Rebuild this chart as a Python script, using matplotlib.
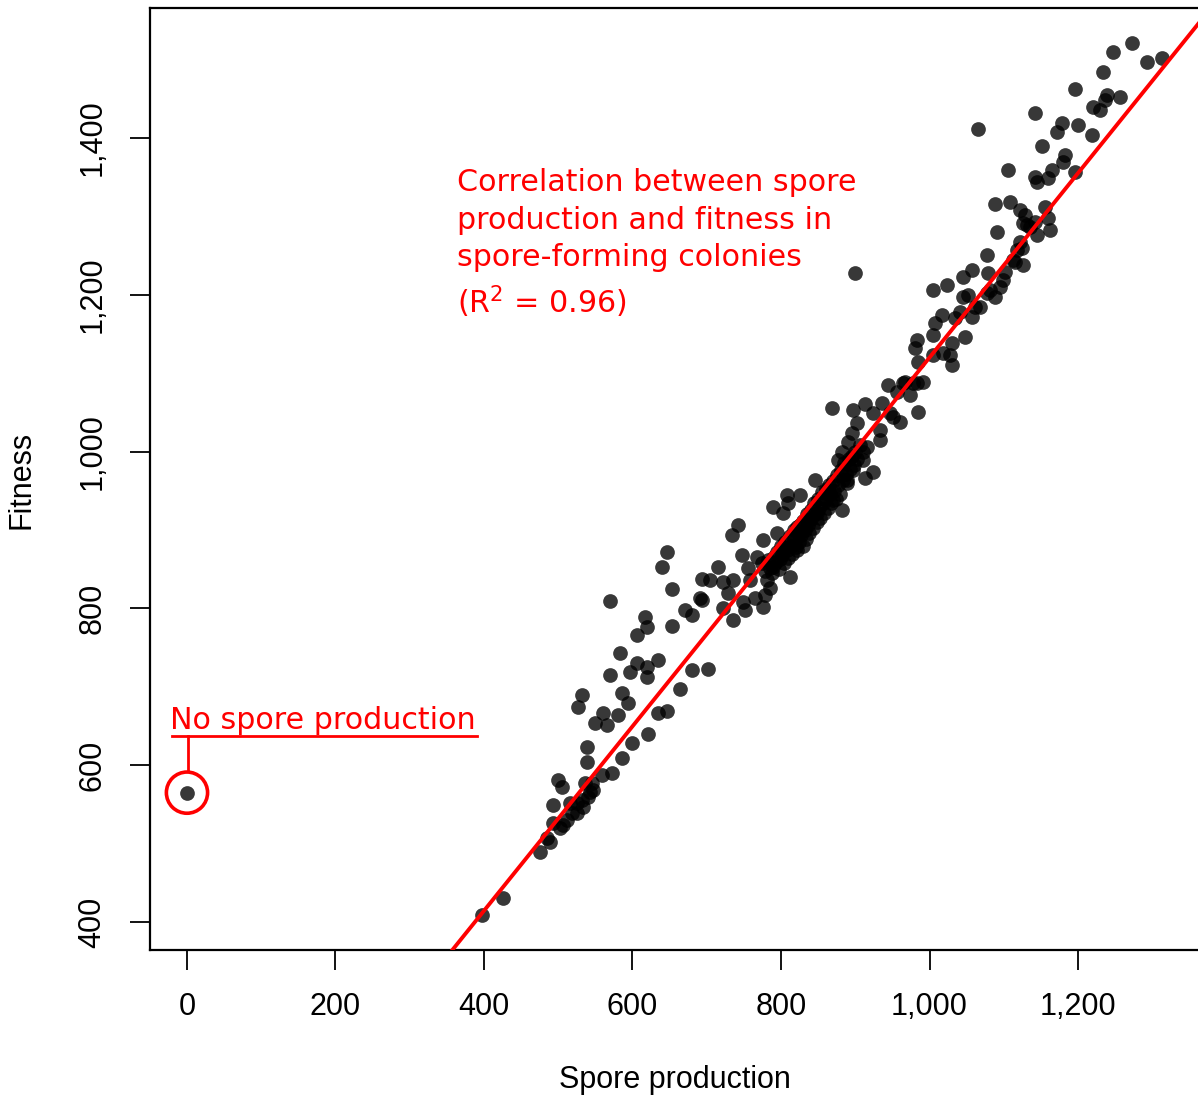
import matplotlib
matplotlib.use("Agg")
import matplotlib.pyplot as plt
from matplotlib.ticker import FuncFormatter

# colonies: spore production vs fitness
spores = [
    0,
    397, 426, 475, 489, 493, 493, 500, 505, 516, 525, 533, 540, 547, 536,
    539, 539, 559, 572, 586, 599, 621, 634, 646, 664, 680, 702, 549, 566,
    560, 580, 594, 586, 527, 532, 570, 583, 597, 606, 620, 620, 634, 606,
    617, 620, 653, 671, 680, 570, 640, 646, 653, 694, 704, 715, 722, 735,
    729, 694, 722, 735, 734, 742,
    502, 512, 518, 532, 543, 506, 485, 525, 545,
    869, 897, 913, 936, 944, 964, 983, 985, 960, 951, 924, 902, 896, 933,
    933, 916, 890, 882, 877, 910, 924, 913, 897, 889, 846, 826, 808, 809,
    789, 803, 862, 870, 882, 848, 835, 822, 776, 795, 747, 768, 803,
    822, 756, 812, 789, 781, 758, 691, 749, 765, 778, 785, 752, 776,
    775, 778, 782, 785, 788, 790, 792, 795, 797, 798, 800, 802, 804, 806,
    808, 810, 812, 813, 815, 817, 818, 820, 822, 824, 825, 827, 829, 830,
    832, 834, 835, 836, 838, 840, 841, 843, 845, 846, 848, 850, 851, 853,
    855, 856, 858, 860, 861, 863, 865, 866, 868, 870, 872, 874, 876, 877,
    879, 881, 883, 885, 887, 889, 891, 893, 895, 898, 900, 903, 906, 910,
    1088, 1108, 1122, 1129, 1131, 1142, 1160, 1162, 1145, 1156, 1091, 1118,
    1125, 1112, 1126, 1077, 1079, 1057, 1045, 1024, 1005, 1102, 1099, 1095,
    1081, 1077, 1088, 1045, 1052, 1068, 1061, 1057, 1041, 1034, 1017, 1007,
    1005, 983, 980, 985, 1005, 1018, 1030, 1048, 1028, 1030, 967, 956,
    978, 991, 974, 947,
    1273, 1247, 1293, 1313, 1234, 1196, 1239, 1257, 1236, 1220, 1230, 1142,
    1065, 1178, 1172, 1200, 1219, 1152, 1182, 1180, 1196, 1165, 1160, 1142,
    1145, 1106, 1126, 1135, 1122, 1115,
    900,
]
fitness = [
    565,
    409, 431, 489, 502, 526, 549, 581, 572, 552, 539, 547, 559, 568, 577,
    604, 623, 588, 590, 609, 628, 640, 667, 669, 697, 721, 723, 654, 651,
    667, 664, 679, 692, 674, 690, 715, 743, 719, 730, 725, 712, 734, 766,
    789, 776, 778, 798, 792, 809, 853, 872, 825, 837, 836, 853, 834, 836,
    820, 811, 801, 785, 894, 906,
    520, 530, 539, 556, 566, 524, 507, 552, 577,
    1056, 1053, 1061, 1062, 1085, 1087, 1087, 1051, 1038, 1044, 1049, 1036,
    1024, 1028, 1015, 1006, 1012, 999, 989, 989, 974, 966, 977, 964, 964,
    945, 945, 934, 929, 922, 951, 938, 926, 922, 913, 904, 887, 896,
    868, 866, 878, 874, 852, 840, 853, 836, 836, 813, 808, 813, 817, 826,
    798, 802,
    858, 848, 862, 852, 845, 866, 858, 872, 850, 863, 880, 868, 858, 885,
    875, 864, 892, 880, 870, 900, 888, 878, 895, 885, 906, 893, 880, 912,
    900, 888, 920, 907, 896, 925, 914, 902, 935, 921, 910, 940, 928, 915,
    948, 935, 922, 952, 940, 928, 958, 946, 934, 962, 950, 940, 970, 958,
    946, 976, 964, 985, 972, 960, 990, 978, 995, 983, 1000, 990, 1008, 1000,
    1316, 1318, 1308, 1302, 1289, 1293, 1298, 1283, 1276, 1312, 1280, 1257,
    1260, 1244, 1238, 1251, 1228, 1232, 1223, 1212, 1206, 1229, 1219, 1210,
    1206, 1202, 1197, 1197, 1200, 1184, 1184, 1172, 1178, 1170, 1174, 1164,
    1149, 1142, 1132, 1114, 1123, 1126, 1139, 1146, 1123, 1110, 1089, 1076,
    1087, 1089, 1072, 1049,
    1521, 1510, 1497, 1502, 1484, 1462, 1455, 1452, 1448, 1440, 1436, 1432,
    1411, 1419, 1408, 1417, 1404, 1390, 1378, 1369, 1357, 1359, 1349, 1350,
    1344, 1359, 1292, 1286, 1267, 1242,
    1228,
]

# regression line for spore-forming colonies
fit_intercept = -56.0
fit_slope = 1.176
fit_x = [357, 1362]

xticks = [0, 200, 400, 600, 800, 1000, 1200]
yticks = [400, 600, 800, 1000, 1200, 1400]

fig = plt.figure(figsize=(11.98, 10.97), dpi=100)
ax = fig.add_axes([150 / 1198, 1 - 950 / 1097, 1 - 150 / 1198, (950 - 8) / 1097])

ax.scatter(spores, fitness, s=112, color="black", alpha=0.78, linewidths=0, zorder=2)
ax.plot(fit_x, [fit_intercept + fit_slope * v for v in fit_x], color="red", lw=2.8, zorder=3)

# callout for the colony without spores
ax.scatter([spores[0]], [fitness[0]], s=880, facecolors="none", edgecolors="red",
           linewidths=2.6, zorder=3)
ax.plot([-20, 391], [637, 637], color="red", lw=2.0, clip_on=False)
ax.plot([1, 1], [637, 594], color="red", lw=2.0)
ax.text(-23, 646, "No spore production", color="red", fontsize=21.7,
        family="DejaVu Sans", ha="left", va="baseline")

ax.text(364, 1362, "Correlation between spore\nproduction and fitness in\n"
        "spore-forming colonies\n(R$^2$ = 0.96)", color="red", fontsize=21.7,
        family="DejaVu Sans", ha="left", va="top", linespacing=1.38)

ax.set_xlim(-49.8, 1361.6)
ax.set_ylim(364.3, 1565.8)
ax.set_xticks(xticks)
ax.set_yticks(yticks)
fmt = FuncFormatter(lambda v, p: f"{v:,.0f}")
ax.xaxis.set_major_formatter(fmt)
ax.yaxis.set_major_formatter(fmt)
ax.tick_params(direction="out", length=14.5, width=1.3, labelsize=22, pad=16)
for lab in ax.get_xticklabels() + ax.get_yticklabels():
    lab.set_family("Liberation Sans")
for lab in ax.get_yticklabels():
    lab.set_rotation(90)
    lab.set_va("center")
ax.spines["right"].set_visible(False)
for sp in ["left", "top", "bottom"]:
    ax.spines[sp].set_linewidth(1.6)

fig.text(675 / 1198, 1 - 1080 / 1097, "Spore production", fontsize=22,
         family="Liberation Sans", ha="center", va="center")
fig.text(22 / 1198, 1 - 480 / 1097, "Fitness", fontsize=22, rotation=90,
         family="Liberation Sans", ha="center", va="center")

fig.savefig("out.png", dpi=100)
